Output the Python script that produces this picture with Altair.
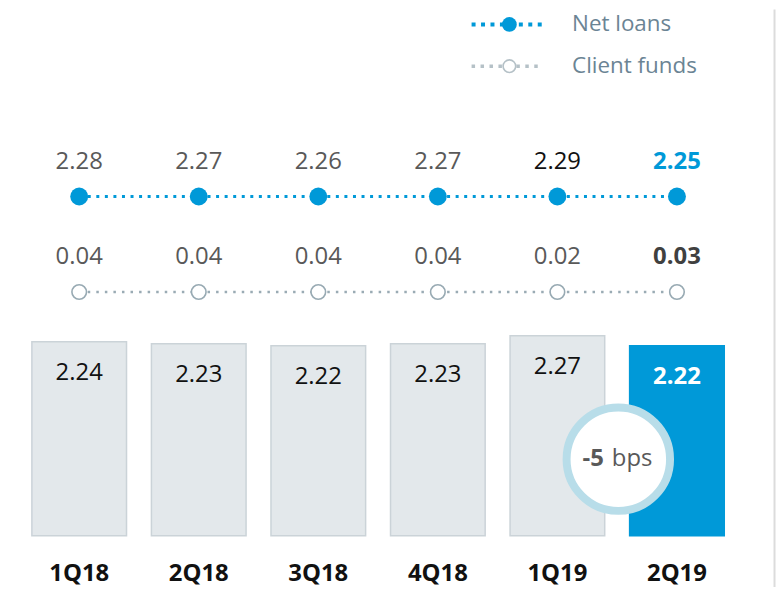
import altair as alt
import pandas as pd

quarters = ["1Q18", "2Q18", "3Q18", "4Q18", "1Q19", "2Q19"]
margin = [2.24, 2.23, 2.22, 2.23, 2.27, 2.22]
net_loans = [2.28, 2.27, 2.26, 2.27, 2.29, 2.25]
client_funds = [0.04, 0.04, 0.04, 0.04, 0.02, 0.03]
series = ["Net loans", "Client funds"]

BLUE = "#0099d8"
GRAY = "#9aabb4"
FONT = "Open Sans"
Y_MIN, Y_MAX = 1.265, 3.91

bars = pd.DataFrame({"quarter": quarters, "value": margin})
lines = pd.DataFrame({
    "quarter": quarters * 2,
    "series": [series[0]] * len(quarters) + [series[1]] * len(quarters),
    "value": net_loans + client_funds,
})
legend_df = pd.DataFrame({"series": series})
change_bps = round((margin[-1] - margin[-2]) * 100)
annot = pd.DataFrame({"num": [f"{change_bps:d}"], "unit": ["bps"]})

last_q = quarters[-1]

x = alt.X(
    "quarter:N",
    sort=quarters,
    scale=alt.Scale(domain=quarters, range=[24, 720], paddingInner=0.2083, paddingOuter=0),
    axis=alt.Axis(title=None, labelAngle=0, domain=False, ticks=False, grid=False,
                  labelFont=FONT, labelFontSize=24, labelFontWeight="bold",
                  labelColor="#111111", labelPadding=26),
)

ybar = alt.Y("value:Q", scale=alt.Scale(domain=[Y_MIN, Y_MAX], zero=False, nice=False), axis=None)
yser = alt.Y("series:N", scale=alt.Scale(type="point", domain=series, range=[188, 284], padding=0), axis=None)
yleg = alt.Y("series:N", scale=alt.Scale(type="point", domain=series, range=[15, 57], padding=0), axis=None)

base_bar = alt.Chart(bars)
bar_layer = base_bar.mark_bar(strokeWidth=1.5).encode(
    x=x, y=ybar, y2=alt.datum(Y_MIN),
    color=alt.condition(alt.datum.quarter == last_q, alt.value(BLUE), alt.value("#e3e8eb")),
    stroke=alt.condition(alt.datum.quarter == last_q, alt.value(BLUE), alt.value("#cbd3d8")),
)
bar_text = base_bar.transform_filter(alt.datum.quarter != last_q).mark_text(
    dy=31, baseline="middle", font=FONT, fontSize=24, color="#111111"
).encode(x=x, y=ybar, text=alt.Text("value:Q", format=".2f"))
bar_text_hi = base_bar.transform_filter(alt.datum.quarter == last_q).mark_text(
    dy=31, baseline="middle", font=FONT, fontSize=24, fontWeight="bold", color="white"
).encode(x=x, y=ybar, text=alt.Text("value:Q", format=".2f"))

base_line = alt.Chart(lines)
nl = base_line.transform_filter(alt.datum.series == series[0])
cf = base_line.transform_filter(alt.datum.series == series[1])

nl_line = nl.mark_line(color=BLUE, strokeWidth=3, strokeDash=[3, 5.6]).encode(x=x, y=yser)
cf_line = cf.mark_line(color=GRAY, strokeWidth=2.5, strokeDash=[2.5, 6.1]).encode(x=x, y=yser)
nl_pts = nl.mark_point(filled=True, shape="circle", size=324, color=BLUE, opacity=1).encode(x=x, y=yser)
cf_pts = cf.mark_point(shape="circle", size=215, fill="white", stroke="#98aab3",
                       strokeWidth=1.6, opacity=1, fillOpacity=1).encode(x=x, y=yser)

nl_lab = nl.transform_filter(alt.datum.quarter != last_q).mark_text(
    dy=-35, baseline="middle", font=FONT, fontSize=24
).encode(x=x, y=yser, text=alt.Text("value:Q", format=".2f"),
         color=alt.condition(alt.datum.quarter == "1Q19", alt.value("#111111"), alt.value("#595959")))
nl_lab_hi = nl.transform_filter(alt.datum.quarter == last_q).mark_text(
    dy=-35, baseline="middle", font=FONT, fontSize=24, fontWeight="bold", color=BLUE
).encode(x=x, y=yser, text=alt.Text("value:Q", format=".2f"))
cf_lab = cf.transform_filter(alt.datum.quarter != last_q).mark_text(
    dy=-35, baseline="middle", font=FONT, fontSize=24, color="#595959"
).encode(x=x, y=yser, text=alt.Text("value:Q", format=".2f"))
cf_lab_hi = cf.transform_filter(alt.datum.quarter == last_q).mark_text(
    dy=-35, baseline="middle", font=FONT, fontSize=24, fontWeight="bold", color="#404040"
).encode(x=x, y=yser, text=alt.Text("value:Q", format=".2f"))

# annotation bubble
base_an = alt.Chart(annot)
bubble = base_an.mark_point(shape="circle", size=10816, fill="white", stroke="#b8dde9",
                            strokeWidth=8, opacity=1, fillOpacity=1).encode(
    x=alt.value(613.5), y=alt.value(452))
an_num = base_an.mark_text(align="right", baseline="middle", font=FONT, fontSize=24,
                           fontWeight="bold", color="#595959").encode(
    x=alt.value(599), y=alt.value(452), text="num:N")
an_unit = base_an.mark_text(align="left", baseline="middle", font=FONT, fontSize=24,
                            color="#595959").encode(
    x=alt.value(607), y=alt.value(452), text="unit:N")

# legend
base_leg = alt.Chart(legend_df)
lg_nl = base_leg.transform_filter(alt.datum.series == series[0])
lg_cf = base_leg.transform_filter(alt.datum.series == series[1])
leg_nl_rule = lg_nl.mark_rule(color=BLUE, strokeWidth=4, strokeDash=[4, 5.5]).encode(
    x=alt.value(466), x2=alt.value(537), y=yleg)
leg_cf_rule = lg_cf.mark_rule(color="#b5c1c7", strokeWidth=3.5, strokeDash=[3.5, 5.5]).encode(
    x=alt.value(466), x2=alt.value(537), y=yleg)
leg_nl_pt = lg_nl.mark_point(filled=True, shape="circle", size=220, color=BLUE, opacity=1).encode(
    x=alt.value(504), y=yleg)
leg_cf_pt = lg_cf.mark_point(shape="circle", size=160, fill="white", stroke="#b5c1c7",
                             strokeWidth=1.6, opacity=1, fillOpacity=1).encode(
    x=alt.value(504), y=yleg)
leg_text = base_leg.mark_text(align="left", baseline="middle", font=FONT, fontSize=22.5,
                              color="#6b8494").encode(x=alt.value(567), y=yleg, text="series:N")

edge = base_leg.transform_filter(alt.datum.series == series[0]).mark_rule(
    color="#dcdcdc", strokeWidth=2).encode(x=alt.value(770.5), y=alt.value(0), y2=alt.value(581))

chart = alt.layer(
    bar_layer, bar_text, bar_text_hi,
    nl_line, cf_line, nl_pts, cf_pts,
    nl_lab, nl_lab_hi, cf_lab, cf_lab_hi,
    bubble, an_num, an_unit,
    leg_nl_rule, leg_cf_rule, leg_nl_pt, leg_cf_pt, leg_text,
    edge,
).resolve_scale(y="independent").properties(
    width=772, height=529,
    autosize=alt.AutoSizeParams(type="none"),
    padding={"left": 0, "top": 0, "right": 0, "bottom": 50},
    background="white",
).configure_view(stroke=None)

chart.save("out.html", embed_options={"renderer": "svg", "actions": False})
